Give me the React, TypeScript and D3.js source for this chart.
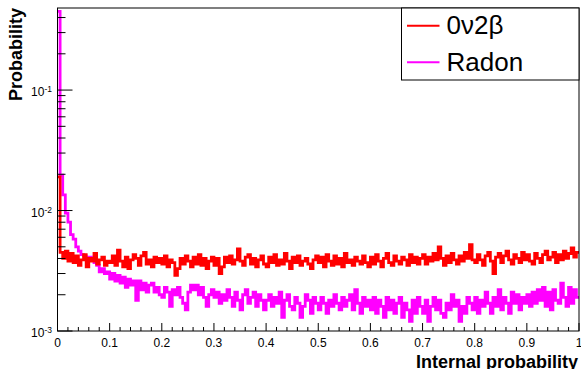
import React from "react";
import * as d3 from "d3";

// Histogram contents, 200 bins over [0,1], values in units of 1e-4 (probability)
const signal0v2b = [
  190, 45, 40, 46, 38, 44, 37, 42, 35, 39, 43, 34, 40, 38, 44, 36, 39, 41, 35, 38,
  37, 42, 35, 47, 38, 34, 41, 33, 39, 43, 40, 35, 42, 45, 36, 39, 34, 41, 37, 40,
  36, 42, 34, 39, 37, 29, 33, 40, 36, 42, 38, 34, 41, 36, 43, 35, 40, 33, 38, 41,
  35, 40, 30, 34, 41, 37, 42, 36, 39, 48, 38, 35, 41, 43, 36, 40, 34, 39, 42, 36,
  34, 41, 37, 43, 35, 39, 36, 44, 38, 33, 41, 37, 42, 35, 38, 40, 36, 33, 39, 42,
  37, 41, 34, 43, 38, 35, 42, 36, 40, 34, 44, 37, 39, 35, 41, 38, 36, 42, 37, 34,
  41, 36, 43, 38, 34, 40, 44, 37, 35, 42, 38, 36, 41, 39, 35, 43, 37, 41, 36, 40,
  43, 36, 41, 38, 44, 39, 50, 40, 35, 42, 37, 44, 39, 36, 42, 38, 45, 40, 52, 39,
  37, 43, 39, 35, 42, 45, 38, 30, 41, 44, 37, 42, 46, 39, 36, 43, 40, 37, 45, 39,
  43, 38, 36, 44, 40, 37, 43, 46, 39, 41, 45, 37, 43, 39, 46, 40, 44, 49, 41, 45,
];

const radon = [
  4500, 197, 135, 95, 80, 63, 58, 50, 46, 43, 42, 41, 41, 39, 37, 35, 31, 33, 30, 31,
  27, 30, 26, 29, 25, 28, 23, 27, 24, 26, 18, 26, 22, 25, 21, 24, 25, 21, 23, 20,
  19, 23, 21, 16, 22, 20, 23, 19, 17, 15, 21, 24, 22, 24, 20, 23, 19, 16, 20, 22,
  19, 21, 17, 20, 18, 22, 19, 16, 21, 18, 15, 20, 22, 17, 19, 21, 16, 20, 18, 15,
  18, 20, 16, 19, 17, 21, 13, 18, 20, 16, 15, 19, 17, 13, 16, 20, 18, 14, 19, 17,
  15, 19, 17, 14, 18, 16, 20, 17, 15, 19, 16, 18, 20, 15, 22, 17, 14, 19, 16, 18,
  15, 19, 14, 18, 16, 13, 19, 15, 18, 14, 17, 19, 13, 17, 15, 12, 18, 14, 19, 16,
  14, 18, 12, 16, 19, 15, 18, 14, 13, 17, 15, 20, 16, 18, 12, 16, 14, 19, 17, 15,
  19, 14, 18, 16, 21, 17, 14, 19, 16, 22, 15, 19, 17, 14, 21, 17, 20, 15, 19, 17,
  20, 16, 21, 17, 22, 18, 23, 16, 21, 15, 22, 18, 17, 25, 19, 16, 23, 17, 22, 19,
];

const xTickLabels = ["0", "0.1", "0.2", "0.3", "0.4", "0.5", "0.6", "0.7", "0.8", "0.9", "1"];
const yMajorExponents = [-3, -2, -1];
const legendLabels = ["0\u03bd2\u03b2", "Radon"];
const seriesColors = ["#ff0000", "#ff00ff"];
const UNIT = 1e-4;
const X_RANGE: [number, number] = [0, 1];
const Y_RANGE: [number, number] = [1e-3, 0.48];

const W = 581;
const H = 369;
const FL = 57.5;
const FR = 579;
const FT = 8;
const FB = 331;
const FONT = "'Liberation Sans', Arial, Helvetica, sans-serif";

const x = d3.scaleLinear().domain(X_RANGE).range([FL, FR]);
const y = d3.scaleLog().domain(Y_RANGE).range([FB, FT]);

function histPath(vals: number[]) {
  const n = vals.length;
  const w = (X_RANGE[1] - X_RANGE[0]) / n;
  const p = d3.path();
  vals.forEach((v, i) => {
    const x0 = x(X_RANGE[0] + i * w);
    const x1 = x(X_RANGE[0] + (i + 1) * w);
    const yy = y(v * UNIT);
    if (i === 0) p.moveTo(x0, yy);
    else p.lineTo(x0, yy);
    p.lineTo(x1, yy);
  });
  return p.toString();
}

export default function App() {
  const xMajor = d3.range(0, 11).map((i) => i / 10);
  const xMinor = d3.range(0, 51).map((i) => i / 50).filter((_, i) => i % 5 !== 0);
  const yMinor: number[] = [];
  yMajorExponents.forEach((e) => {
    for (let k = 2; k <= 9; k++) {
      const v = k * Math.pow(10, e);
      if (v <= Y_RANGE[1]) yMinor.push(v);
    }
  });
  const legendY = [25.7, 62.3];
  return (
    <svg
      width={W}
      height={H}
      style={{ position: "absolute", left: 0, top: 0, background: "#fff" }}
      fontFamily={FONT}
    >
      <rect x={0} y={0} width={W} height={H} fill="#fff" />
      <defs>
        <clipPath id="frame">
          <rect x={FL} y={FT} width={FR - FL} height={FB - FT} />
        </clipPath>
      </defs>
      <g clipPath="url(#frame)" fill="none" strokeWidth={2.8} strokeLinejoin="miter">
        <path d={histPath(radon)} stroke={seriesColors[1]} />
        <path d={histPath(signal0v2b)} stroke={seriesColors[0]} />
      </g>
      {/* frame */}
      <rect x={FL} y={FT} width={FR - FL} height={FB - FT} fill="none" stroke="#000" strokeWidth={1} />
      {/* ticks */}
      <g stroke="#000" strokeWidth={1}>
        {xMajor.map((t) => (
          <line key={"xm" + t} x1={x(t)} x2={x(t)} y1={FB} y2={FB - 8} />
        ))}
        {xMinor.map((t) => (
          <line key={"xn" + t} x1={x(t)} x2={x(t)} y1={FB} y2={FB - 4} />
        ))}
        {yMajorExponents.map((e) => (
          <line key={"ym" + e} x1={FL} x2={FL + 15} y1={y(Math.pow(10, e))} y2={y(Math.pow(10, e))} />
        ))}
        {yMinor.map((v) => (
          <line key={"yn" + v} x1={FL} x2={FL + 8} y1={y(v)} y2={y(v)} />
        ))}
      </g>
      {/* x labels */}
      <g fontSize={12} textAnchor="middle" fill="#000">
        {xTickLabels.map((l, i) => (
          <text key={l} x={x(xMajor[i])} y={347}>
            {l}
          </text>
        ))}
      </g>
      {/* y labels */}
      <g fill="#000">
        {yMajorExponents.map((e) => (
          <text key={e} x={52} y={y(Math.pow(10, e)) + 6} textAnchor="end" fontSize={12}>
            <tspan>10</tspan>
            <tspan dy={-4} fontSize={8.5}>
              {String(e)}
            </tspan>
          </text>
        ))}
      </g>
      {/* axis titles */}
      <text x={578} y={367.5} textAnchor="end" fontSize={18} fontWeight="bold" fill="#000">
        Internal probability
      </text>
      <text
        transform={`translate(21.5, ${FT}) rotate(-90)`}
        textAnchor="end"
        fontSize={18}
        fontWeight="bold"
        fill="#000"
      >
        Probability
      </text>
      {/* legend */}
      <rect x={401.5} y={FT} width={FR - 401.5} height={80 - FT} fill="#fff" stroke="#000" strokeWidth={1} />
      {legendLabels.map((l, i) => (
        <g key={l}>
          <line x1={407} x2={439.5} y1={legendY[i]} y2={legendY[i]} stroke={seriesColors[i]} strokeWidth={2} />
          <text x={446.5} y={legendY[i] + 8.5} fontSize={26} fill="#000">
            {l}
          </text>
        </g>
      ))}
    </svg>
  );
}
